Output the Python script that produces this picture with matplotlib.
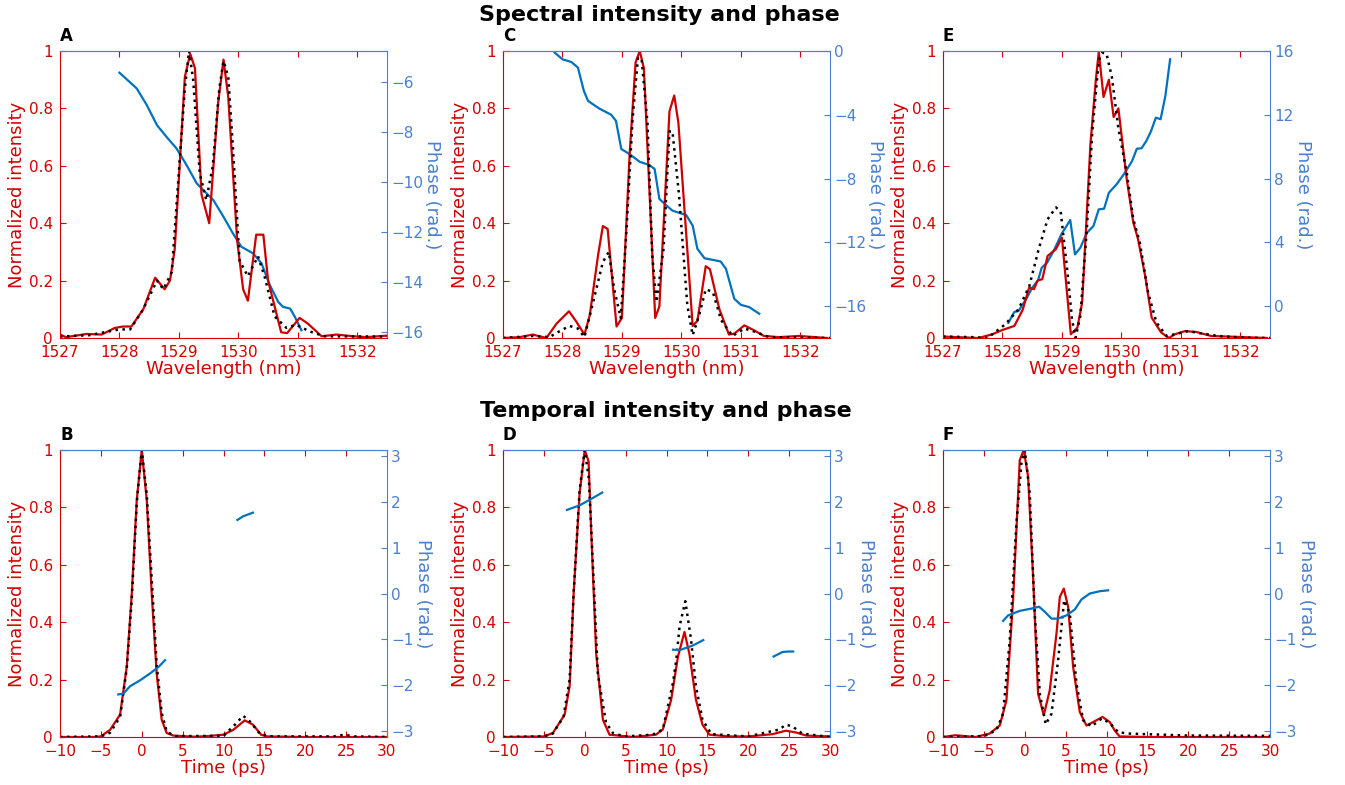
import numpy as np
import matplotlib
matplotlib.use("Agg")
import matplotlib.pyplot as plt

RED = "#d40000"
LINE_RED = "#cc0000"
AX_BLUE = "#4a80d0"
PH_BLUE = "#0072bd"

# ---- spectral data (wavelength in nm) ----
a_wl = [1527, 1527.1, 1527.45, 1527.7, 1527.92, 1528.06, 1528.2, 1528.4, 1528.6, 1528.76,
        1528.85, 1528.93, 1529.1, 1529.19, 1529.27, 1529.38, 1529.51, 1529.66, 1529.75, 1529.83,
        1529.98, 1530.08, 1530.16, 1530.3, 1530.42, 1530.5, 1530.72, 1530.82, 1531.03, 1531.17,
        1531.4, 1531.65, 1531.93, 1532.15, 1532.49]
a_int = [0.012, 0.003, 0.014, 0.012, 0.035, 0.04, 0.04, 0.1, 0.21, 0.17,
         0.2, 0.31, 0.91, 0.99, 0.94, 0.5, 0.4, 0.82, 0.97, 0.84,
         0.34, 0.17, 0.13, 0.36, 0.36, 0.2, 0.02, 0.017, 0.07, 0.05,
         0.006, 0.012, 0.006, 0.003, 0.008]
a_wl_ret = [1527, 1527.5, 1528.0, 1528.18, 1528.4, 1528.63, 1528.74, 1528.88, 1529.01, 1529.1,
            1529.17, 1529.24, 1529.35, 1529.46, 1529.57, 1529.68, 1529.75, 1529.83, 1529.91, 1530.02,
            1530.16, 1530.33, 1530.44, 1530.61, 1530.81, 1530.97, 1531.2, 1531.45, 1532.5]
a_int_ret = [0.005, 0.01, 0.03, 0.03, 0.1, 0.2, 0.17, 0.23, 0.61, 0.87,
             1.0, 0.9, 0.575, 0.48, 0.6, 0.87, 0.965, 0.91, 0.66, 0.27,
             0.215, 0.285, 0.215, 0.075, 0.035, 0.046, 0.023, 0.006, 0.005]
a_wl_ph = [1528.0, 1528.29, 1528.46, 1528.63, 1528.79, 1528.96, 1529.13, 1529.3, 1529.44, 1529.58,
           1529.75, 1529.91, 1530.05, 1530.25, 1530.39, 1530.53, 1530.67, 1530.75, 1530.87, 1530.95,
           1531.06]
a_ph = [-5.61, -6.24, -6.91, -7.71, -8.18, -8.65, -9.32, -10.05, -10.39, -10.72,
        -11.39, -12.06, -12.59, -12.86, -13.26, -14.13, -14.8, -15.0, -15.07, -15.4,
        -15.94]

c_wl = [1527, 1527.28, 1527.5, 1527.73, 1527.9, 1528.11, 1528.23, 1528.37, 1528.46, 1528.6,
        1528.68, 1528.76, 1528.91, 1529.0, 1529.13, 1529.23, 1529.3, 1529.37, 1529.56, 1529.63,
        1529.8, 1529.88, 1529.95, 1530.19, 1530.27, 1530.41, 1530.48, 1530.64, 1530.8, 1530.89,
        1531.06, 1531.22, 1531.39, 1531.64, 1531.98, 1532.45]
c_int = [0, 0.003, 0.012, 0, 0.05, 0.093, 0.058, 0.012, 0.08, 0.29,
         0.39, 0.38, 0.04, 0.07, 0.64, 0.96, 1.0, 0.94, 0.07, 0.11,
         0.79, 0.845, 0.75, 0.042, 0.06, 0.25, 0.24, 0.1, 0.012, 0.015,
         0.044, 0.027, 0.007, 0.003, 0.007, 0]
c_wl_ret = [1527, 1527.5, 1527.78, 1527.98, 1528.12, 1528.26, 1528.37, 1528.51, 1528.68, 1528.78,
            1528.87, 1528.98, 1529.07, 1529.18, 1529.27, 1529.33, 1529.43, 1529.51, 1529.58, 1529.7,
            1529.8, 1529.85, 1529.96, 1530.1, 1530.19, 1530.3, 1530.41, 1530.53, 1530.67, 1530.86,
            1531.06, 1531.25, 1531.48, 1532.5]
c_int_ret = [0, 0.007, 0.003, 0.027, 0.042, 0.033, 0.003, 0.12, 0.265, 0.3,
             0.17, 0.07, 0.35, 0.765, 0.975, 0.975, 0.75, 0.29, 0.125, 0.31,
             0.72, 0.72, 0.5, 0.114, 0.01, 0.08, 0.17, 0.16, 0.062, 0.007,
             0.033, 0.021, 0.003, 0]
c_wl_ph = [1527.87, 1528.0, 1528.15, 1528.26, 1528.36, 1528.43, 1528.62, 1528.82, 1528.9, 1528.99,
           1529.13, 1529.3, 1529.46, 1529.55, 1529.63, 1529.74, 1529.85, 1529.97, 1530.08, 1530.19,
           1530.27, 1530.39, 1530.53, 1530.66, 1530.75, 1530.89, 1531.0, 1531.14, 1531.31]
c_ph = [-0.1, -0.52, -0.69, -1.04, -2.5, -3.13, -3.61, -4.0, -4.38, -6.15,
        -6.47, -6.95, -7.15, -7.4, -9.28, -9.66, -10.01, -10.16, -10.28, -10.95,
        -12.41, -13.0, -13.1, -13.2, -13.66, -15.54, -15.92, -16.06, -16.48]

e_wl = [1527, 1527.6, 1527.83, 1528.0, 1528.2, 1528.34, 1528.45, 1528.53, 1528.59, 1528.67,
        1528.76, 1528.9, 1529.0, 1529.15, 1529.26, 1529.34, 1529.48, 1529.57, 1529.62, 1529.7,
        1529.79, 1529.87, 1529.95, 1530.09, 1530.2, 1530.28, 1530.4, 1530.51, 1530.67, 1530.8,
        1530.9, 1531.07, 1531.26, 1531.51, 1531.79, 1532.45]
e_int = [0.005, 0, 0.013, 0.028, 0.042, 0.098, 0.176, 0.17, 0.2, 0.205,
         0.286, 0.31, 0.35, 0.013, 0.036, 0.123, 0.676, 0.898, 0.997, 0.84,
         0.9, 0.77, 0.8, 0.554, 0.403, 0.345, 0.217, 0.071, 0.019, 0,
         0.013, 0.024, 0.021, 0.007, 0.005, 0]
e_wl_ret = [1527, 1527.5, 1527.75, 1527.83, 1528.05, 1528.27, 1528.45, 1528.61, 1528.76, 1528.9,
            1528.98, 1529.1, 1529.17, 1529.23, 1529.31, 1529.42, 1529.51, 1529.62, 1529.68, 1529.75,
            1529.84, 1529.95, 1530.09, 1530.2, 1530.31, 1530.45, 1530.59, 1530.76, 1530.9, 1531.12,
            1531.35, 1531.63, 1532.07, 1532.5]
e_int_ret = [0.005, 0.003, 0, 0.013, 0.048, 0.1, 0.18, 0.31, 0.414, 0.455,
             0.44, 0.217, 0.065, 0.001, 0.077, 0.38, 0.717, 0.967, 0.994, 0.99,
             0.91, 0.73, 0.577, 0.415, 0.333, 0.158, 0.054, 0.007, 0.013, 0.024,
             0.016, 0.007, 0.001, 0]
e_wl_ph = [1528.1, 1528.2, 1528.27, 1528.41, 1528.5, 1528.6, 1528.66, 1528.75, 1528.86, 1528.99,
           1529.14, 1529.22, 1529.31, 1529.42, 1529.53, 1529.62, 1529.71, 1529.79, 1529.92, 1530.06,
           1530.18, 1530.26, 1530.34, 1530.42, 1530.5, 1530.58, 1530.66, 1530.74, 1530.82]
e_ph = [-1.05, -0.36, -0.31, 0.52, 1.15, 1.63, 2.41, 2.72, 3.45, 4.5,
        5.4, 3.24, 3.66, 4.6, 5.02, 6.07, 6.11, 7.11, 7.64, 8.37,
        9.1, 9.87, 9.9, 10.36, 10.98, 11.82, 11.72, 13.18, 15.48]

# ---- temporal data (time in ps) ----
b_t = [-10, -6, -5, -3.87, -2.65, -1.83, -1.22, -0.61, 0, 0.61,
       1.22, 1.83, 2.44, 3.05, 3.87, 5, 6.5, 8, 10, 11.2,
       12.6, 13.6, 14.6, 15.3, 20, 30]
b_int = [0, 0, 0.002, 0.025, 0.078, 0.246, 0.5, 0.826, 1.0, 0.826,
         0.5, 0.22, 0.06, 0.014, 0.005, 0.003, 0.001, 0.003, 0.008, 0.025,
         0.058, 0.043, 0.008, 0.002, 0, 0]
b_t_ret = [-10, -5, -3.87, -2.65, -1.83, -1.22, -0.6, 0, 0.6, 1.22,
           1.83, 2.44, 3.05, 4, 10, 11.4, 12.4, 13.2, 14.5, 16, 23.5, 24.8, 26, 30]
b_int_ret = [0, 0.002, 0.015, 0.07, 0.24, 0.48, 0.82, 1.0, 0.85, 0.55,
             0.25, 0.084, 0.02, 0.003, 0.004, 0.043, 0.074, 0.055, 0.01, 0.002, 0.002, 0.008, 0.002, 0]
b_t_ph1 = [-2.87, -2.24, -1.43, -0.2, 1.02, 2.04, 2.85]
b_ph1 = [-2.21, -2.19, -2.03, -1.9, -1.75, -1.61, -1.46]
b_t_ph2 = [11.7, 12.4, 13.6]
b_ph2 = [1.61, 1.69, 1.77]

d_t = [-10, -5, -3.9, -2.46, -1.85, -1.36, -0.63, 0, 0.47, 0.8,
       1.4, 2.22, 3.03, 5.9, 8.7, 9.55, 10.57, 11.4, 12.2, 12.8,
       13.6, 14.4, 15.25, 17.7, 20.1, 23.0, 24.6, 25.8, 27.1, 29.9]
d_int = [0, 0.002, 0.014, 0.078, 0.177, 0.5, 0.85, 1.0, 0.96, 0.71,
         0.29, 0.06, 0.008, 0, 0.008, 0.026, 0.13, 0.28, 0.366, 0.29,
         0.13, 0.043, 0.008, 0.002, 0.002, 0.01, 0.022, 0.016, 0.005, 0.002]
d_t_ret = [-10, -5, -3.9, -2.6, -1.85, -1.36, -0.63, 0, 0.5, 1.0,
           1.6, 2.6, 3.5, 5, 8.3, 9.55, 10.8, 11.2, 11.6, 12.3, 13.0, 13.6,
           14.4, 15.5, 20, 23.8, 24.6, 25.4, 26.6, 30]
d_int_ret = [0, 0.002, 0.012, 0.07, 0.2, 0.5, 0.86, 1.0, 0.9, 0.6,
             0.22, 0.05, 0.012, 0.002, 0.008, 0.026, 0.19, 0.27, 0.386, 0.473, 0.34, 0.177,
             0.06, 0.01, 0.002, 0.026, 0.043, 0.037, 0.012, 0]
d_t_ph1 = [-2.18, -0.63, 0.59, 2.14]
d_ph1 = [1.83, 1.93, 2.05, 2.21]
d_t_ph2 = [10.8, 11.6, 13.2, 14.5]
d_ph2 = [-1.23, -1.24, -1.14, -1.02]
d_t_ph3 = [23.1, 24.2, 24.9, 25.5]
d_ph3 = [-1.38, -1.28, -1.27, -1.27]

f_t = [-10, -8.5, -6, -4.3, -3.06, -2.24, -1.43, -0.61, -0.12, 0.41,
       1.02, 1.63, 2.33, 3.06, 3.88, 4.29, 4.78, 5.31, 5.92, 6.73,
       7.55, 8.37, 9.51, 10.4, 11.0, 11.6, 15, 30]
f_int = [0, 0.006, 0, 0.012, 0.04, 0.128, 0.477, 0.965, 1.0, 0.907,
         0.558, 0.151, 0.076, 0.163, 0.36, 0.488, 0.517, 0.453, 0.244, 0.087,
         0.04, 0.052, 0.07, 0.052, 0.023, 0.002, 0, 0]
f_t_ret = [-10, -5, -3.47, -2.65, -1.84, -1.02, -0.41, 0, 0.61, 1.22,
           1.84, 2.57, 3.27, 4.08, 4.82, 5.51, 6.33, 7.14, 8.16, 9.39,
           10.4, 11.43, 12.65, 20, 30]
f_int_ret = [0, 0.003, 0.023, 0.081, 0.337, 0.744, 0.953, 1.0, 0.85, 0.43,
             0.151, 0.044, 0.081, 0.267, 0.477, 0.43, 0.186, 0.058, 0.037, 0.064,
             0.049, 0.017, 0.012, 0.005, 0.004]
f_t_ph = [-2.65, -2.04, -0.61, 0.82, 1.76, 2.45, 3.27, 4.08, 5.1, 6.12,
          6.94, 7.96, 9.18, 10.2]
f_ph = [-0.6, -0.48, -0.38, -0.33, -0.29, -0.4, -0.55, -0.55, -0.48, -0.35,
        -0.13, 0, 0.05, 0.07]

plt.rcParams['font.family'] = ['DejaVu Sans']

fig = plt.figure(figsize=(13.45, 7.85), dpi=100)

W, H = 1345.0, 785.0
lefts = [60, 503, 943]
aw = 327
ah = 287
tops = [51, 450]
TICK_FS = 11
LAB_FS = 13


def style_axes(ax, ax2):
    ax.spines['left'].set_color(RED)
    ax.spines['bottom'].set_color(RED)
    ax.spines['top'].set_color(AX_BLUE)
    ax.spines['right'].set_visible(False)
    ax2.spines['right'].set_color(AX_BLUE)
    ax2.spines['top'].set_color(AX_BLUE)
    ax2.spines['left'].set_visible(False)
    ax2.spines['bottom'].set_visible(False)
    ax.tick_params(axis='x', direction='in', labelsize=TICK_FS, colors=RED, length=4,
                   top=True, pad=5)
    ax.tick_params(axis='y', direction='in', labelsize=TICK_FS, colors=RED, length=4, pad=5)
    ax2.tick_params(axis='y', direction='in', labelsize=TICK_FS, colors=AX_BLUE, length=4, pad=3)
    for t in ax.xaxis.get_ticklines()[1::2]:
        t.set_color(AX_BLUE)


def labels(ax, ax2, xlabel):
    ax.set_xlabel(xlabel, color=RED, fontsize=LAB_FS, labelpad=0)
    ax.set_ylabel('Normalized intensity', color=RED, fontsize=LAB_FS, labelpad=2)
    ax2.set_ylabel('Phase (rad.)', color=AX_BLUE, fontsize=LAB_FS, rotation=270,
                   va='bottom', labelpad=0)


def spectral(col, label, wl, it, wl_r, it_r, wl_p, ph, ylim2, yticks2):
    ax = fig.add_axes([lefts[col] / W, 1 - (tops[0] + ah) / H, aw / W, ah / H])
    ax2 = ax.twinx()
    ax.plot(wl, it, color=LINE_RED, lw=1.6)
    ax.plot(wl_r, it_r, color='black', lw=1.8, ls=(0, (1, 1.8)))
    ax2.plot(wl_p, ph, color=PH_BLUE, lw=1.6)
    ax.set_xlim(1527, 1532.5)
    ax.set_ylim(0, 1)
    ax.set_xticks([1527, 1528, 1529, 1530, 1531, 1532])
    ax.set_yticks([0, 0.2, 0.4, 0.6, 0.8, 1])
    ax.set_yticklabels(['0', '0.2', '0.4', '0.6', '0.8', '1'])
    ax2.set_ylim(*ylim2)
    ax2.set_yticks(yticks2)
    labels(ax, ax2, 'Wavelength (nm)')
    style_axes(ax, ax2)
    ax.text(0.0, 1.02, label, transform=ax.transAxes, fontsize=12, fontweight='bold',
            ha='left', va='bottom')
    ax.set_zorder(ax2.get_zorder() + 1)
    ax.patch.set_visible(False)


def temporal(col, label, t, it, t_r, it_r, segs):
    ax = fig.add_axes([lefts[col] / W, 1 - (tops[1] + ah) / H, aw / W, ah / H])
    ax2 = ax.twinx()
    for tp, ph in segs:
        ax2.plot(tp, ph, color=PH_BLUE, lw=1.6)
    ax.plot(t, it, color=LINE_RED, lw=1.6)
    ax.plot(t_r, it_r, color='black', lw=1.8, ls=(0, (1, 1.8)))
    ax.set_xlim(-10, 30)
    ax.set_ylim(0, 1)
    ax.set_xticks(list(range(-10, 31, 5)))
    ax.set_yticks([0, 0.2, 0.4, 0.6, 0.8, 1])
    ax.set_yticklabels(['0', '0.2', '0.4', '0.6', '0.8', '1'])
    ax2.set_ylim(-np.pi, np.pi)
    ax2.set_yticks([-3, -2, -1, 0, 1, 2, 3])
    labels(ax, ax2, 'Time (ps)')
    style_axes(ax, ax2)
    ax.text(0.0, 1.02, label, transform=ax.transAxes, fontsize=12, fontweight='bold',
            ha='left', va='bottom')


spectral(0, 'A', a_wl, a_int, a_wl_ret, a_int_ret, a_wl_ph, a_ph, (-16.25, -4.74), [-16, -14, -12, -10, -8, -6])
spectral(1, 'C', c_wl, c_int, c_wl_ret, c_int_ret, c_wl_ph, c_ph, (-18, 0), [-16, -12, -8, -4, 0])
spectral(2, 'E', e_wl, e_int, e_wl_ret, e_int_ret, e_wl_ph, e_ph, (-2, 16), [0, 4, 8, 12, 16])

temporal(0, 'B', b_t, b_int, b_t_ret, b_int_ret, [(b_t_ph1, b_ph1), (b_t_ph2, b_ph2)])
temporal(1, 'D', d_t, d_int, d_t_ret, d_int_ret, [(d_t_ph1, d_ph1), (d_t_ph2, d_ph2), (d_t_ph3, d_ph3)])
temporal(2, 'F', f_t, f_int, f_t_ret, f_int_ret, [(f_t_ph, f_ph)])

fig.text(659 / W, 1 - 15 / H, 'Spectral intensity and phase', ha='center', va='center',
         fontsize=16, fontweight='bold')
fig.text(666 / W, 1 - 411 / H, 'Temporal intensity and phase', ha='center', va='center',
         fontsize=16, fontweight='bold')

fig.savefig('out.png', dpi=100)
